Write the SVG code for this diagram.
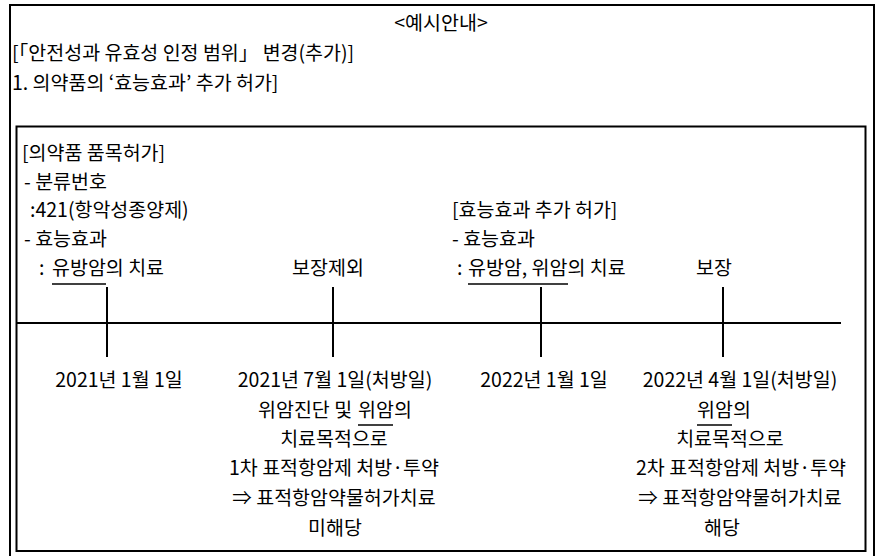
<svg xmlns="http://www.w3.org/2000/svg" width="880" height="556" viewBox="0 0 880 556">
<style>
text{font-family:"Noto Sans CJK KR","Noto Sans",sans-serif;font-size:19.5px;fill:#000}
.m{text-anchor:middle}
.box{fill:none;stroke:#000;stroke-width:2}
.ln{stroke:#000;stroke-width:2;fill:none}
.ul{stroke:#000;stroke-width:1.6}
</style>
<rect width="880" height="556" fill="#fff"/>
<g id="outer">
<path class="box" d="M10,560 V5 H874 V560"/>
<text class="m" x="441" y="30">&lt;예시안내&gt;</text>
<text x="12" y="60">[「안전성과 유효성 인정 범위」 변경(추가)]</text>
<text x="12" y="90">1. 의약품의 ‘효능효과’ 추가 허가]</text>
</g>
<g id="inner">
<rect class="box" x="16.5" y="126.5" width="849" height="424.5"/>
</g>
<g id="approval1">
<text x="22" y="160">[의약품 품목허가]</text>
<text x="24" y="189">- 분류번호</text>
<text x="30" y="217">:421(항악성종양제)</text>
<text x="24" y="246">- 효능효과</text>
<text x="39" y="275">:<tspan x="52">유방암</tspan>의 치료</text>
<line class="ul" x1="52" y1="284" x2="106" y2="284"/>
</g>
<g id="excluded"><text class="m" x="328" y="275">보장제외</text></g>
<g id="approval2">
<text x="452" y="217">[효능효과 추가 허가]</text>
<text x="452" y="246">- 효능효과</text>
<text x="457" y="275">:<tspan x="468">유방암, 위암</tspan>의 치료</text>
<line class="ul" x1="468" y1="284" x2="568" y2="284"/>
</g>
<g id="covered"><text class="m" x="714" y="275">보장</text></g>
<g id="connectors">
<line class="ln" x1="16" y1="323" x2="841" y2="323"/>
<line class="ln" x1="107" y1="287" x2="107" y2="357"/>
<line class="ln" x1="333" y1="287" x2="333" y2="357"/>
<line class="ln" x1="541" y1="287" x2="541" y2="357"/>
<line class="ln" x1="723" y1="287" x2="723" y2="357"/>
</g>
<g id="date1"><text class="m" x="119" y="387">2021년 1월 1일</text></g>
<g id="date2">
<text class="m" x="335" y="387">2021년 7월 1일(처방일)</text>
<text x="258" y="417">위암진단 및 <tspan x="358">위암</tspan>의</text>
<line class="ul" x1="358" y1="425" x2="393" y2="425"/>
<text class="m" x="334" y="446">치료목적으로</text>
<text class="m" x="334" y="475">1차 표적항암제 처방·투약</text>
<text class="m" x="334" y="505">⇒ 표적항암약물허가치료</text>
<text class="m" x="335" y="535">미해당</text>
</g>
<g id="date3"><text class="m" x="544" y="387">2022년 1월 1일</text></g>
<g id="date4">
<text class="m" x="740" y="387">2022년 4월 1일(처방일)</text>
<text x="697" y="417">위암의</text>
<line class="ul" x1="697" y1="425" x2="732" y2="425"/>
<text class="m" x="730" y="446">치료목적으로</text>
<text class="m" x="741" y="475">2차 표적항암제 처방·투약</text>
<text class="m" x="740" y="505">⇒ 표적항암약물허가치료</text>
<text class="m" x="722" y="535">해당</text>
</g>
</svg>
